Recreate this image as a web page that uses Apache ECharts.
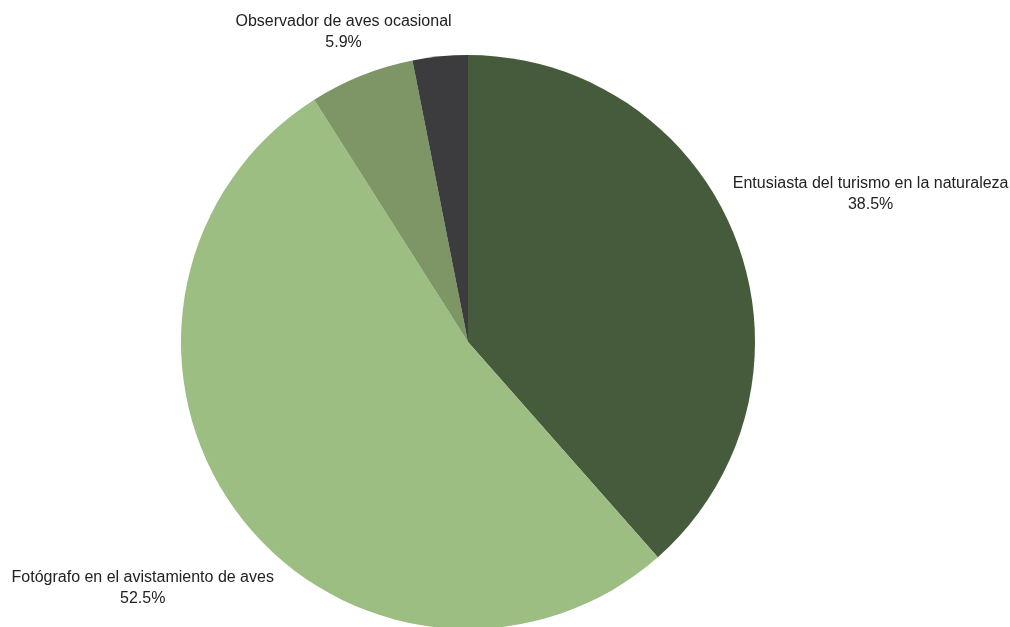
<!DOCTYPE html>
<html>
<head>
<meta charset="utf-8">
<script src="https://cdn.jsdelivr.net/npm/echarts@6/dist/echarts.min.js"></script>
<style>
html,body{margin:0;padding:0;background:#fff;}
#chart{width:1010px;height:627px;}
</style>
</head>
<body>
<div id="chart"></div>
<script>
const categories = [
  'Entusiasta del turismo en la naturaleza',
  'Fotógrafo en el avistamiento de aves',
  'Observador de aves ocasional',
  'Ornitólogo experto'
];
const values = [38.5, 52.5, 5.9, 3.1];

// style settings (not data)
const colors = ['#465b3c', '#9cbe83', '#7e9665', '#3c3c3e'];
const hiddenLabels = [false, false, false, true];
const labelLineLengths = [137, 116, 43, 40];
const labelShiftX = [1, 2, 3, 0];
const labelShiftY = [2, 4, -3, 0];

const chart = echarts.init(document.getElementById('chart'), null, {renderer: 'canvas'});
const data = categories.map((name, i) => ({
  name: name,
  value: values[i],
  itemStyle: {color: colors[i]},
  label: hiddenLabels[i] ? {show: false} : undefined,
  labelLine: {length: labelLineLengths[i], length2: 0}
}));
chart.setOption({
  animation: false,
  backgroundColor: '#ffffff',
  series: [{
    type: 'pie',
    center: [468, 342],
    radius: 287,
    startAngle: 90,
    clockwise: true,
    avoidLabelOverlap: true,
    itemStyle: {borderWidth: 0},
    label: {
      show: true,
      position: 'outside',
      formatter: '{b}\n{d}%',
      fontFamily: 'Liberation Sans, Arial, sans-serif',
      fontSize: 16,
      lineHeight: 21,
      color: '#222222',
      width: 320,
      align: 'center'
    },
    labelLine: {show: false, length: 120, length2: 0},
    labelLayout: function (params) {
      return {
        align: 'center',
        dx: labelShiftX[params.dataIndex],
        dy: labelShiftY[params.dataIndex]
      };
    },
    data: data
  }]
});
</script>
</body>
</html>
